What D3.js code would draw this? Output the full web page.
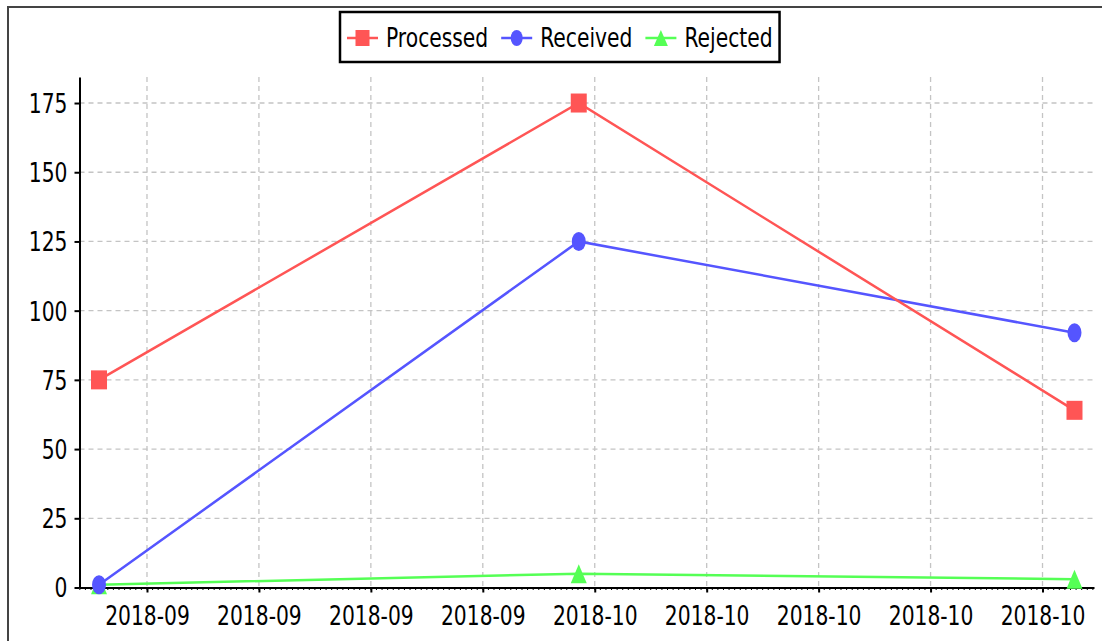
<!DOCTYPE html>
<html>
<head>
<meta charset="utf-8">
<script src="https://cdn.jsdelivr.net/npm/d3@7"></script>
<style>
  html, body { margin: 0; padding: 0; background: #fff; }
  svg { display: block; }
</style>
</head>
<body>
<div id="chart"></div>
<script>
// data
const dates = ["2018-08-31", "2018-09-30", "2018-10-31"];
const processed = [75, 175, 64];
const received = [1, 125, 92];
const rejected = [1, 5, 3];
const seriesNames = ["Processed", "Received", "Rejected"];
const seriesColors = ["#ff5555", "#5555ff", "#55ff55"];
const yTicks = [0, 25, 50, 75, 100, 125, 150, 175];
const yMax = 184.4;

const width = 1102, height = 641;
const sx = 0.78; // text is squeezed horizontally in the reference
const font = "DejaVu Sans";

const parse = d3.utcParse("%Y-%m-%d");
const days = dates.map(parse);
const series = [processed, received, rejected].map((vals, i) => ({
    name: seriesNames[i],
    color: seriesColors[i],
    points: vals.map((v, j) => ({ date: days[j], value: v }))
}));

const svg = d3.select("#chart").append("svg")
    .attr("width", width)
    .attr("height", height);

// outer frame (only top and left edges show)
svg.append("path")
    .attr("d", `M8,${height} L8,7 L${width},7`)
    .attr("fill", "none")
    .attr("stroke", "#444")
    .attr("stroke-width", 2);

const plotL = 79.5, plotR = 1094, plotT = 77, plotB = 587.5;

const span = days[days.length - 1] - days[0];
const x = d3.scaleUtc()
    .domain([new Date(+days[0] - span * 0.02), new Date(+days[days.length - 1] + span * 0.02)])
    .range([plotL, plotR]);

const y = d3.scaleLinear()
    .domain([0, yMax])
    .range([plotB, plotT]);

const xTicks = x.ticks(d3.utcMonday.every(1));
const fmt = d3.utcFormat("%Y-%m");

// grid
const grid = svg.append("g")
    .attr("stroke", "#c4c4c4")
    .attr("stroke-width", 1.3)
    .attr("stroke-dasharray", "5,4");
grid.selectAll("line.h")
    .data(yTicks.filter(d => d > 0))
    .join("line")
    .attr("class", "h")
    .attr("x1", plotL).attr("x2", plotR)
    .attr("y1", d => y(d)).attr("y2", d => y(d));
grid.selectAll("line.v")
    .data(xTicks)
    .join("line")
    .attr("class", "v")
    .attr("x1", d => x(d)).attr("x2", d => x(d))
    .attr("y1", plotT).attr("y2", plotB);

// minor ticks on the date axis (20 per week)
const week = 7 * 24 * 3600 * 1000;
const step = week / 20;
const dom = x.domain();
const minors = [];
for (let t = +xTicks[0] - Math.floor((+xTicks[0] - +dom[0]) / step) * step; t <= +dom[1]; t += step) {
    minors.push(new Date(t));
}
svg.append("g")
    .selectAll("line")
    .data(minors)
    .join("line")
    .attr("x1", d => x(d)).attr("x2", d => x(d))
    .attr("y1", plotB).attr("y2", plotB + 2.5)
    .attr("stroke", "#000")
    .attr("stroke-width", 1);

// x axis
const gx = svg.append("g")
    .attr("transform", `translate(0,${plotB})`)
    .call(d3.axisBottom(x).tickValues(xTicks).tickFormat(fmt).tickSizeInner(5).tickSizeOuter(0));
gx.select(".domain").attr("stroke-width", 2);
gx.selectAll(".tick line").attr("stroke-width", 2);
gx.attr("font-family", font).attr("font-size", 26);
gx.selectAll(".tick text")
    .attr("y", 38)
    .attr("dy", 0)
    .attr("fill", "#000")
    .attr("transform", `scale(${sx},1)`);

// y axis
const gy = svg.append("g")
    .attr("transform", `translate(${plotL},0)`)
    .call(d3.axisLeft(y).tickValues(yTicks).tickSizeInner(5).tickSizeOuter(0));
gy.select(".domain").attr("stroke-width", 2);
gy.selectAll(".tick line").attr("stroke-width", 2);
gy.attr("font-family", font).attr("font-size", 26);
gy.selectAll(".tick text")
    .attr("x", -12 / sx)
    .attr("dy", "0.36em")
    .attr("fill", "#000")
    .attr("transform", `scale(${sx},1)`);

// markers
function marker(sel, i, w, h) {
    if (i === 0) {
        sel.append("rect")
            .attr("x", -w / 2).attr("y", -h / 2)
            .attr("width", w).attr("height", h);
    } else if (i === 1) {
        sel.append("ellipse")
            .attr("rx", w / 2 - 1).attr("ry", h / 2);
    } else {
        sel.append("path")
            .attr("d", `M0,${-h / 2} L${w / 2},${h / 2} L${-w / 2},${h / 2} Z`);
    }
}

const line = d3.line()
    .x(d => x(d.date))
    .y(d => y(d.value));

// draw in reverse order, like the reference (first series on top)
const plot = svg.append("g");
series.slice().reverse().forEach(s => {
    const i = seriesNames.indexOf(s.name);
    plot.append("path")
        .datum(s.points)
        .attr("fill", "none")
        .attr("stroke", s.color)
        .attr("stroke-width", 2.5)
        .attr("d", line);
    plot.append("g")
        .attr("fill", s.color)
        .selectAll("g")
        .data(s.points)
        .join("g")
        .attr("transform", d => `translate(${x(d.date)},${y(d.value)})`)
        .each(function() { marker(d3.select(this), i, 16, 19); });
});

// legend
const legend = svg.append("g");
const lx0 = 340, ly0 = 12, lh = 50;
const box = legend.append("rect")
    .attr("x", lx0).attr("y", ly0)
    .attr("height", lh)
    .attr("fill", "#fff")
    .attr("stroke", "#000")
    .attr("stroke-width", 2.5);
let cx = lx0 + 7;
const cy = ly0 + lh / 2 + 1;
series.forEach((s, i) => {
    const item = legend.append("g").attr("transform", `translate(${cx},${cy})`);
    item.append("line")
        .attr("x1", 0).attr("x2", 31)
        .attr("stroke", s.color)
        .attr("stroke-width", 2.5);
    const m = item.append("g")
        .attr("fill", s.color)
        .attr("transform", "translate(15.5,0)");
    marker(m, i, 14, 16);
    const t = item.append("g")
        .attr("transform", "translate(39,0)")
        .append("text")
        .attr("font-family", font)
        .attr("font-size", 26)
        .attr("fill", "#000")
        .attr("dy", "0.36em")
        .attr("transform", `scale(${sx},1)`)
        .text(s.name);
    const tw = t.node().getComputedTextLength() * sx;
    cx += 39 + tw + 13;
});
box.attr("width", cx - 13 + 7 - lx0);
</script>
</body>
</html>
